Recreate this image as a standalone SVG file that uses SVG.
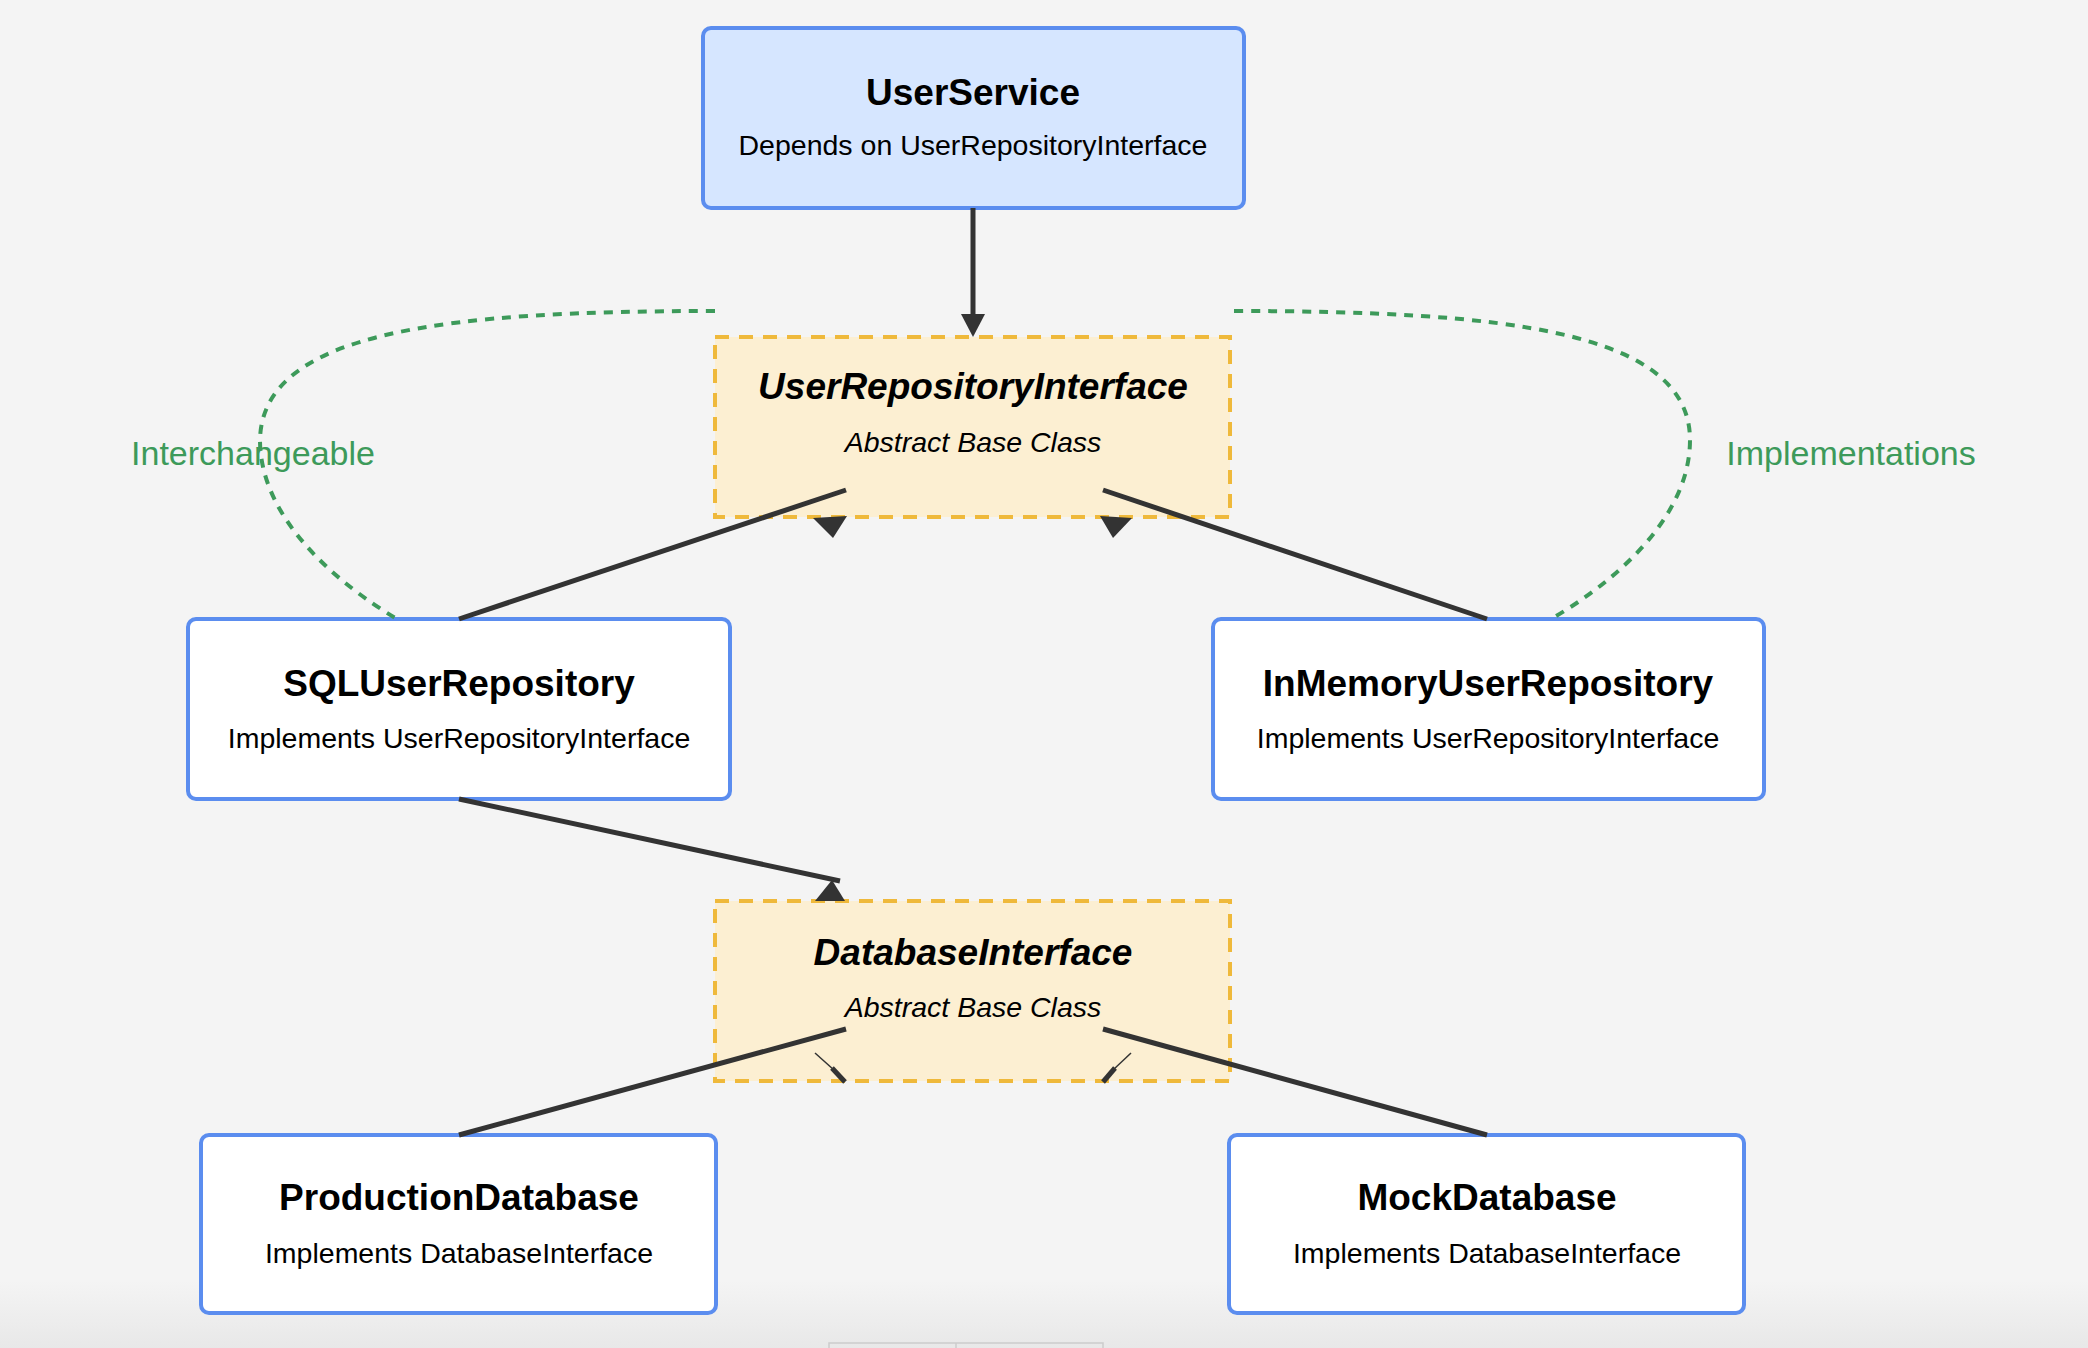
<svg xmlns="http://www.w3.org/2000/svg" width="2088" height="1348" viewBox="0 0 2088 1348">
<defs>
<linearGradient id="bg" x1="0" y1="0" x2="0" y2="1"><stop offset="0.95" stop-color="#f4f4f4"/><stop offset="1" stop-color="#e8e8e8"/></linearGradient>
</defs>
<style>
.box{fill:#fff;stroke:#5b8def;stroke-width:4}
.svc{fill:#d6e6ff;stroke:#5b8def;stroke-width:4}
.abs{fill:#fcefd2;stroke:#efb93b;stroke-width:4;stroke-dasharray:14 10}
.t{font-family:"Liberation Sans",Arial,sans-serif;font-size:37px;font-weight:bold;fill:#000;text-anchor:middle}
.s{font-family:"Liberation Sans",Arial,sans-serif;font-size:28.5px;fill:#000;text-anchor:middle}
.i{font-style:italic}
.ln{stroke:#333;stroke-width:5;fill:none}
.g{stroke:#3d9a5a;stroke-width:4;stroke-dasharray:9 8;fill:none}
.gl{font-family:"Liberation Sans",Arial,sans-serif;font-size:34px;fill:#3d9a5a;text-anchor:middle}
.ah{fill:#333}
</style>
<rect width="2088" height="1348" fill="url(#bg)"/>
<rect x="829" y="1343" width="274" height="10" fill="none" stroke="#ccc" stroke-width="1.5"/>
<line x1="956" y1="1343" x2="956" y2="1348" stroke="#ccc" stroke-width="1.5"/>
<g id="UserService"><rect class="svc" x="703" y="28" width="541" height="180" rx="8"/><text class="t" x="973" y="105">UserService</text><text class="s" x="973" y="155">Depends on UserRepositoryInterface</text></g>
<g id="UserRepositoryInterface"><rect class="abs" x="715" y="337" width="515" height="180"/><text class="t i" x="973" y="399">UserRepositoryInterface</text><text class="s i" x="973" y="452">Abstract Base Class</text></g>
<g id="SQLUserRepository"><rect class="box" x="188" y="619" width="542" height="180" rx="8"/><text class="t" x="459" y="696">SQLUserRepository</text><text class="s" x="459" y="748">Implements UserRepositoryInterface</text></g>
<g id="InMemoryUserRepository"><rect class="box" x="1213" y="619" width="551" height="180" rx="8"/><text class="t" x="1488" y="696">InMemoryUserRepository</text><text class="s" x="1488" y="748">Implements UserRepositoryInterface</text></g>
<g id="DatabaseInterface"><rect class="abs" x="715" y="901" width="515" height="180"/><text class="t i" x="973" y="965">DatabaseInterface</text><text class="s i" x="973" y="1017">Abstract Base Class</text></g>
<g id="ProductionDatabase"><rect class="box" x="201" y="1135" width="515" height="178" rx="8"/><text class="t" x="459" y="1210">ProductionDatabase</text><text class="s" x="459" y="1263">Implements DatabaseInterface</text></g>
<g id="MockDatabase"><rect class="box" x="1229" y="1135" width="515" height="178" rx="8"/><text class="t" x="1487" y="1210">MockDatabase</text><text class="s" x="1487" y="1263">Implements DatabaseInterface</text></g>
<g id="connectors">
<path class="g" d="M715 311 C450 311 262 330 260 440 C260 520 340 585 397 619"/>
<path class="g" d="M1234 311 C1500 311 1690 330 1690 440 C1690 520 1610 585 1551 619"/>
<text class="gl" x="253" y="465">Interchangeable</text>
<text class="gl" x="1851" y="465">Implementations</text>
<line class="ln" x1="973" y1="208" x2="973" y2="318"/>
<polygon class="ah" points="961,314 985,314 973,337"/>
<line class="ln" x1="459" y1="619" x2="846" y2="490"/>
<polygon class="ah" points="813,518 847,516 833,538"/>
<line class="ln" x1="1487" y1="619" x2="1103" y2="490"/>
<polygon class="ah" points="1100,516 1132,518 1113,538"/>
<line class="ln" x1="459" y1="799" x2="840" y2="881"/>
<polygon class="ah" points="815,901 845,901 832,880"/>
<line class="ln" x1="459" y1="1135" x2="846" y2="1029"/>
<line class="ln" x1="1487" y1="1135" x2="1103" y2="1029"/>
<line x1="815" y1="1053" x2="834" y2="1070" stroke="#333" stroke-width="1.5"/>
<line x1="832" y1="1068" x2="845" y2="1082" stroke="#333" stroke-width="5"/>
<line x1="1131" y1="1053" x2="1113" y2="1070" stroke="#333" stroke-width="1.5"/>
<line x1="1115" y1="1068" x2="1103" y2="1082" stroke="#333" stroke-width="5"/>
</g>
</svg>
